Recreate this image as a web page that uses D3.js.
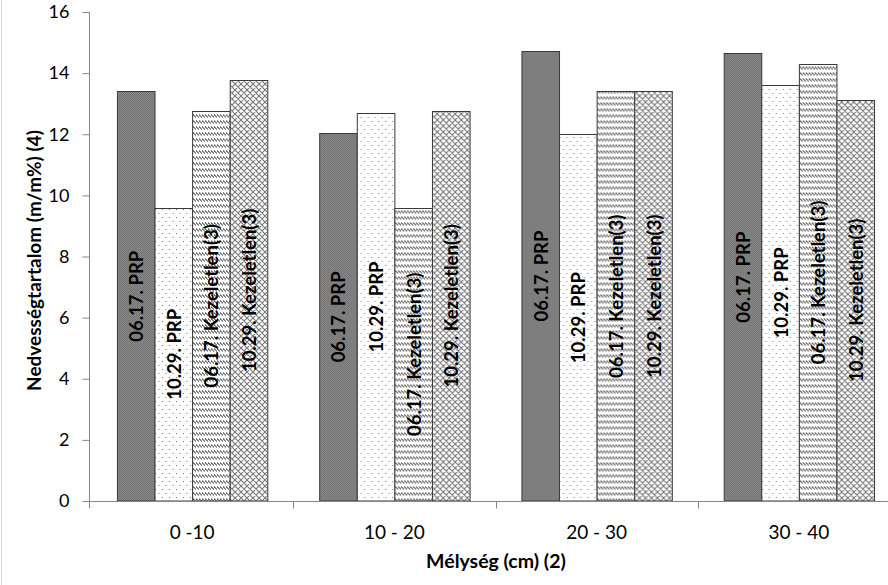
<!DOCTYPE html>
<html>
<head>
<meta charset="utf-8">
<script src="https://cdn.jsdelivr.net/npm/d3@7/dist/d3.min.js"></script>
<style>
  html, body { margin: 0; padding: 0; background: #fff; }
  svg { display: block; }
  text { font-family: Lato, "Open Sans", "DejaVu Sans", sans-serif; }
</style>
</head>
<body>
<svg id="chart" width="888" height="585"></svg>
<script>
// ---- data ----
const categories = ["0 -10", "10 - 20", "20 - 30", "30 - 40"];
const seriesNames = ["06.17. PRP", "10.29. PRP", "06.17. Kezeletlen(3)", "10.29. Kezeletlen(3)"];
const s0617PRP = [13.4, 12.05, 14.72, 14.65];
const s1029PRP = [9.6, 12.7, 12.0, 13.62];
const s0617Kez = [12.77, 9.6, 13.4, 14.3];
const s1029Kez = [13.78, 12.77, 13.4, 13.13];
const yTicks = [0, 2, 4, 6, 8, 10, 12, 14, 16];
const xTitle = "Mélység (cm) (2)";
const yTitle = "Nedvességtartalom (m/m%) (4)";

const seriesValues = [s0617PRP, s1029PRP, s0617Kez, s1029Kez];

const svg = d3.select("#chart");
const W = 888, H = 585;
const m = { left: 91, right: 900, top: 12, bottom: 501 };

// ---- patterns ----
const defs = svg.append("defs");
// 1: dark gray checker
const p1 = defs.append("pattern").attr("id", "p1").attr("patternUnits", "userSpaceOnUse")
  .attr("width", 2).attr("height", 2);
p1.append("rect").attr("width", 2).attr("height", 2).attr("fill", "#707070");
p1.append("rect").attr("width", 1).attr("height", 1).attr("fill", "#8c8c8c");
p1.append("rect").attr("x", 1).attr("y", 1).attr("width", 1).attr("height", 1).attr("fill", "#8c8c8c");
// 2: sparse dots
const p2 = defs.append("pattern").attr("id", "p2").attr("patternUnits", "userSpaceOnUse")
  .attr("width", 7).attr("height", 8);
p2.append("rect").attr("width", 7).attr("height", 8).attr("fill", "#fff");
p2.append("rect").attr("x", 1).attr("y", 1).attr("width", 1).attr("height", 1).attr("fill", "#777");
p2.append("rect").attr("x", 4.5).attr("y", 5).attr("width", 1).attr("height", 1).attr("fill", "#777");
// 3: rows of down-right dashes
const p3 = defs.append("pattern").attr("id", "p3").attr("patternUnits", "userSpaceOnUse")
  .attr("width", 3).attr("height", 6);
p3.append("rect").attr("width", 3).attr("height", 6).attr("fill", "#fff");
p3.append("path").attr("d", "M0,0.5 L3,3.5").attr("stroke", "#666").attr("stroke-width", 1.1);
// 4: diagonal crosshatch
const p4 = defs.append("pattern").attr("id", "p4").attr("patternUnits", "userSpaceOnUse")
  .attr("width", 6).attr("height", 6);
p4.append("rect").attr("width", 6).attr("height", 6).attr("fill", "#fff");
p4.append("path").attr("d", "M0,0 L6,6 M6,0 L0,6 M-1,5 L1,7 M5,-1 L7,1 M-1,1 L1,-1 M5,7 L7,5")
  .attr("stroke", "#777").attr("stroke-width", 1.1);
const fills = ["url(#p1)", "url(#p2)", "url(#p3)", "url(#p4)"];

// left chart-area border
svg.append("line").attr("x1", 1.5).attr("x2", 1.5).attr("y1", 0).attr("y2", H)
  .attr("stroke", "#d9d9d9").attr("stroke-width", 1);

// ---- scales ----
const x0 = d3.scaleBand().domain(categories).range([m.left, m.right]).paddingInner(0).paddingOuter(0);
const x1 = d3.scaleBand().domain(d3.range(seriesNames.length))
  .range([0, x0.bandwidth()]).paddingOuter(0.69).paddingInner(0);
const y = d3.scaleLinear().domain([0, 16]).range([m.bottom, m.top]);

// ---- bars ----
const groups = svg.append("g").selectAll("g").data(categories).join("g")
  .attr("transform", d => `translate(${x0(d)},0)`);

groups.each(function(cat, ci) {
  const g = d3.select(this);
  seriesValues.forEach((vals, si) => {
    const v = vals[ci];
    g.append("rect")
      .attr("x", x1(si) + 0.5)
      .attr("y", Math.round(y(v)) + 0.5)
      .attr("width", x1.bandwidth())
      .attr("height", y(0) - Math.round(y(v)) - 0.5)
      .attr("fill", fills[si])
      .attr("stroke", "#3a3a3a")
      .attr("stroke-width", 1);
  });
  seriesValues.forEach((vals, si) => {
    const v = vals[ci];
    const cx = x1(si) + x1.bandwidth() / 2 + 0.5;
    const cy = (y(v) + y(0)) / 2;
    g.append("text")
      .attr("transform", `translate(${cx},${cy}) rotate(-90)`)
      .attr("text-anchor", "middle")
      .attr("dominant-baseline", "central")
      .attr("font-size", 18.5)
      .attr("font-weight", "bold")
      .attr("fill", "#000")
      .text(seriesNames[si]);
  });
});

// ---- axes ----
const axisColor = "#868686";
// y axis
const yAxis = svg.append("g").attr("transform", `translate(${m.left - 1.5},0)`)
  .call(d3.axisLeft(y).tickValues(yTicks).tickSize(7).tickPadding(13).tickFormat(d3.format("d")));
yAxis.select(".domain").attr("stroke", axisColor).attr("d", `M0,${m.top}V${m.bottom + 7}`);
yAxis.selectAll(".tick line").attr("stroke", axisColor);
yAxis.selectAll(".tick text").attr("font-size", 18).attr("fill", "#000")
  .style("font-family", "Lato, 'Open Sans', sans-serif");

// x axis
const xAxisG = svg.append("g").attr("transform", `translate(0,${m.bottom + 0.5})`);
xAxisG.append("line").attr("x1", m.left - 1.5).attr("x2", W).attr("y1", 0).attr("y2", 0)
  .attr("stroke", axisColor);
const boundaries = categories.map(c => x0(c)).concat([x0(categories[categories.length - 1]) + x0.bandwidth()]);
xAxisG.selectAll("line.tk").data(boundaries.slice(1)).join("line").attr("class", "tk")
  .attr("x1", d => Math.round(d) + 0.5).attr("x2", d => Math.round(d) + 0.5)
  .attr("y1", 0).attr("y2", 7).attr("stroke", axisColor);
xAxisG.selectAll("text").data(categories).join("text")
  .attr("x", d => x0(d) + x0.bandwidth() / 2)
  .attr("y", 37)
  .attr("text-anchor", "middle")
  .attr("font-size", 19)
  .attr("fill", "#000")
  .text(d => d);

// titles
svg.append("text").attr("x", 496).attr("y", 568).attr("text-anchor", "middle")
  .attr("font-size", 19.5).attr("font-weight", "bold").text(xTitle);
svg.append("text").attr("transform", `translate(41,${(m.top + m.bottom) / 2 + 4}) rotate(-90)`)
  .attr("text-anchor", "middle").attr("font-size", 19).attr("font-weight", "bold").text(yTitle);
</script>
</body>
</html>
